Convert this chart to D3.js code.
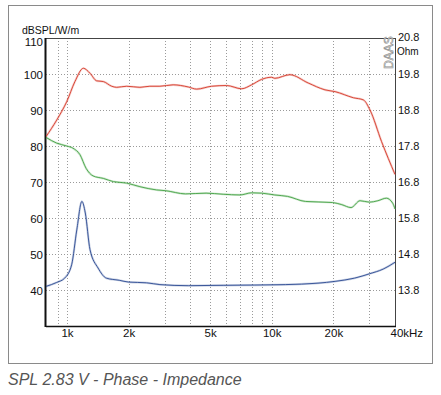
<!DOCTYPE html>
<html><head><meta charset="utf-8">
<script src="https://cdn.jsdelivr.net/npm/d3@7"></script>
<style>body{margin:0;background:#fff}svg{display:block}</style>
</head><body><svg id="c" width="441" height="395"></svg>
<script>
// SPL (dB) - red
const splFreq = [790,891,997,1094,1202,1296,1397,1505,1654,1748,1956,2271,2540,2844,3302,3911,4298,5088,6020,7130,7980,8920,9970,10350,12250,15070,18200,20400,25050,28050,30200,34400,40000];
const splDb   = [82.6,87.2,92.3,97.9,101.6,100.2,98.1,97.9,96.6,96.3,96.6,96.3,96.6,96.6,97.0,96.4,95.8,96.6,96.8,95.9,97.0,98.5,99.1,98.8,99.8,97.5,95.6,95.1,93.4,92.8,90.0,81.2,72.1];
// Phase curve (plotted on dB grid) - green
const phaseFreq = [790,891,997,1069,1157,1240,1340,1505,1687,1956,2271,2735,3015,3795,4780,5790,6995,7990,8920,10350,11950,14600,19800,22000,24400,27000,30000,33000,36300,39000,40000];
const phaseVal  = [82.4,80.8,80.0,79.4,77.6,73.8,71.7,71.0,70.1,69.7,68.7,67.8,67.6,66.7,66.9,66.6,66.4,67.0,66.9,66.4,66.0,64.6,64.3,63.7,62.9,64.8,64.4,64.8,65.5,64.1,62.5];
// Impedance (Ohm, right axis) - blue
const impFreq = [790,891,975,1054,1117,1183,1229,1296,1419,1557,1799,2005,2448,2844,3911,5790,11650,16820,20400,25400,30000,35000,40000];
const impOhm  = [13.90,14.01,14.13,14.50,15.47,16.26,15.94,14.92,14.41,14.13,14.07,14.02,14.00,13.95,13.92,13.93,13.95,13.99,14.04,14.13,14.25,14.38,14.57];

const leftTicks = [40,50,60,70,80,90,100,110];
const rightTicks = [13.8,14.8,15.8,16.8,17.8,18.8,19.8,20.8];
const xTickVals = [1000,2000,5000,10000,20000,40000];
const xTickLabels = ["1k","2k","5k","10k","20k","40kHz"];
const xGrid = [900,1000,2000,3000,4000,5000,6000,7000,8000,9000,10000,20000,30000];

const svg = d3.select("#c");
const L=46, R=395, T=38, B=326;
const x = d3.scaleLog().domain([790,40000]).range([L,R]);
const y = d3.scaleLinear().domain([30,110]).range([B,T]);
const yr = d3.scaleLinear().domain([12.8,20.8]).range([B,T]);
const font = "Liberation Sans, Arial, sans-serif";

// frame
svg.append("rect").attr("x",8.5).attr("y",5.5).attr("width",424).attr("height",358)
  .attr("fill","none").attr("stroke","#8a8a8a");

// grid
const g = svg.append("g");
g.selectAll(".vg").data(xGrid).join("line")
  .attr("x1",d=>Math.round(x(d))+0.5).attr("x2",d=>Math.round(x(d))+0.5)
  .attr("y1",T).attr("y2",B).attr("stroke","#9a9a9a").attr("stroke-dasharray","1,2");
g.selectAll(".hg").data(leftTicks).join("line")
  .attr("x1",L).attr("x2",R).attr("y1",d=>Math.round(y(d))+0.5).attr("y2",d=>Math.round(y(d))+0.5)
  .attr("stroke","#9a9a9a").attr("stroke-dasharray","1,2");

// axes via d3
const yAxis = d3.axisLeft(y).tickValues(leftTicks).tickFormat(d3.format("d"));
const ya = svg.append("g").attr("transform",`translate(${L-3},0)`).call(yAxis);
ya.select(".domain").remove();
ya.selectAll("line").remove();
ya.selectAll("text").attr("x",0).attr("dy",d=>d===110?"0.62em":"0.42em").attr("font-family",font).attr("font-size",11.5).attr("fill","#111");

const yrAxis = d3.axisRight(yr).tickValues(rightTicks).tickFormat(d3.format(".1f"));
const yra = svg.append("g").attr("transform",`translate(${R},0)`).call(yrAxis);
yra.select(".domain").remove(); yra.selectAll("line").remove();
yra.selectAll("text").attr("x",3).attr("dy",d=>d===20.8?"0.2em":"0.35em").attr("font-family",font).attr("font-size",11).attr("fill","#111");

const xAxis = d3.axisBottom(x).tickValues(xTickVals).tickFormat((d,i)=>xTickLabels[i]);
const xa = svg.append("g").attr("transform",`translate(0,${B})`).call(xAxis);
xa.select(".domain").remove(); xa.selectAll("line").remove();
xa.selectAll("text").attr("y",3).attr("font-family",font).attr("font-size",11.5).attr("fill","#111");
xa.selectAll("text").filter((d,i)=>i===xTickLabels.length-1).attr("text-anchor","start").attr("dx",-5);

// plot border
svg.append("line").attr("x1",L).attr("x2",R).attr("y1",T+0.5).attr("y2",T+0.5).attr("stroke","#444");
svg.append("line").attr("x1",R+0.5).attr("x2",R+0.5).attr("y1",T).attr("y2",B).attr("stroke","#444");
svg.append("line").attr("x1",L).attr("x2",R+1).attr("y1",B+0.5).attr("y2",B+0.5).attr("stroke","#111").attr("stroke-width",1.5);
svg.append("line").attr("x1",L-0.5).attr("x2",L-0.5).attr("y1",T).attr("y2",B+1).attr("stroke","#111").attr("stroke-width",2);

// curves
svg.append("clipPath").attr("id","cp").append("rect").attr("x",L).attr("y",T).attr("width",R-L+1).attr("height",B-T);
function curve(fs, vs, ys, color){
  const line = d3.line().x((d,i)=>x(fs[i])).y(d=>ys(d)).curve(d3.curveMonotoneX);
  svg.append("path").datum(vs).attr("d",line).attr("fill","none").attr("stroke",color)
    .attr("stroke-opacity",0.25).attr("stroke-width",2.2).attr("clip-path","url(#cp)");
  svg.append("path").datum(vs).attr("d",line).attr("fill","none").attr("stroke",color)
    .attr("stroke-width",0.9).attr("clip-path","url(#cp)");
}
curve(phaseFreq, phaseVal, y, "#44a244");
curve(impFreq, impOhm, yr, "#2b4a92");
curve(splFreq, splDb, y, "#d63a2a");

// titles
svg.append("text").attr("x",22).attr("y",34).attr("font-family",font).attr("font-size",10.5).attr("fill","#111").text("dBSPL/W/m");
svg.append("text").attr("x",397).attr("y",55).attr("font-family",font).attr("font-size",10).attr("fill","#111").text("Ohm");
svg.append("text").attr("transform","translate(393,69) rotate(-90)").attr("font-family",font)
  .attr("font-size",12).attr("fill","#fff").attr("stroke","#8a8a8a").attr("stroke-width",0.6).text("DAAS");
svg.append("text").attr("x",8).attr("y",385).attr("font-family",font).attr("font-size",16)
  .attr("font-style","italic").attr("fill","#555").text("SPL 2.83 V - Phase - Impedance");
</script></body></html>
